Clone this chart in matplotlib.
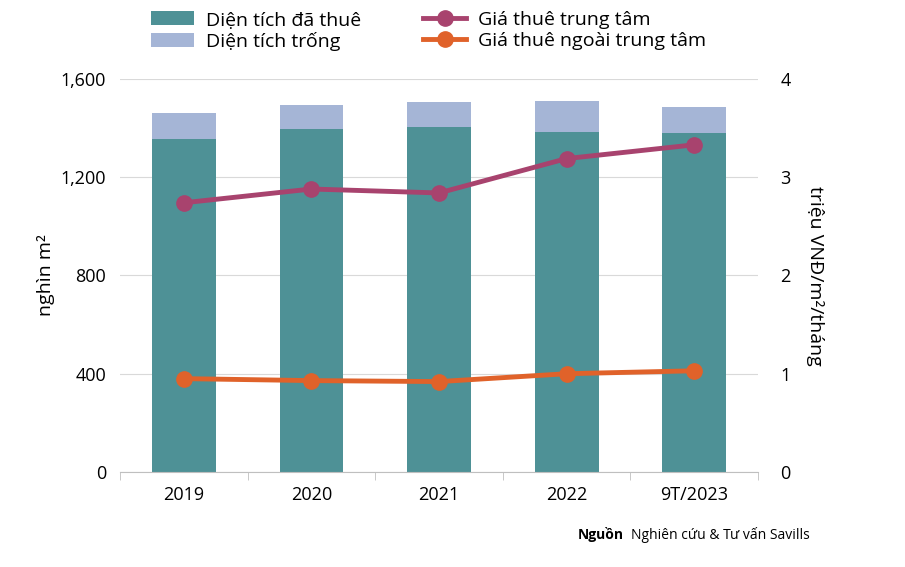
import matplotlib.pyplot as plt
import numpy as np

plt.rcParams['font.family'] = ['Open Sans', 'DejaVu Sans']

categories = ['2019', '2020', '2021', '2022', '9T/2023']
leased = [1356, 1397, 1405, 1384, 1380]
total = [1462, 1494, 1507, 1511, 1486]
vacant = [t - l for t, l in zip(total, leased)]
rent_center = [2.74, 2.88, 2.84, 3.19, 3.33]
rent_outer = [0.95, 0.93, 0.92, 1.00, 1.03]

TEAL = '#4E9196'
LIGHT = '#A5B5D6'
PURPLE = '#A8436E'
ORANGE = '#E0622A'

fig = plt.figure(figsize=(9.05, 5.67), dpi=100)
ax = fig.add_axes([0.1326, 0.1676, 0.7050, 0.6931])
x = np.arange(len(categories))
b1 = ax.bar(x, leased, width=0.5, color=TEAL, label='Diện tích đã thuê', zorder=2)
b2 = ax.bar(x, vacant, width=0.5, bottom=leased, color=LIGHT, label='Diện tích trống', zorder=2)
ax.set_ylim(0, 1600)
ax.set_yticks([0, 400, 800, 1200, 1600])
ax.set_yticklabels(['0', '400', '800', '1,200', '1,600'])
ax.set_xlim(-0.5, len(categories) - 0.5)
ax.set_xticks(x)
ax.set_xticklabels(categories)
ax.yaxis.grid(True, color='#D9D9D9', lw=0.8, zorder=0)
ax.set_ylabel('nghìn m²', fontsize=14)
for s in ['top', 'right', 'left']:
    ax.spines[s].set_visible(False)
ax.spines['bottom'].set_color('#BFBFBF')
ax.tick_params(axis='both', length=0, labelsize=13, pad=10)
ax.set_xticks(np.arange(-0.5, len(categories)), minor=True)
ax.tick_params(axis='x', which='minor', length=6, color='#BFBFBF')

ax2 = ax.twinx()
l1, = ax2.plot(x, rent_center, color=PURPLE, lw=3.5, marker='o', ms=11, label='Giá thuê trung tâm', zorder=3)
l2, = ax2.plot(x, rent_outer, color=ORANGE, lw=3.5, marker='o', ms=11, label='Giá thuê ngoài trung tâm', zorder=3)
ax2.set_ylim(0, 4)
ax2.set_yticks([0, 1, 2, 3, 4])
ax2.set_ylabel('triệu VNĐ/m²/tháng', fontsize=14, rotation=270, labelpad=24)
for s in ['top', 'right', 'left', 'bottom']:
    ax2.spines[s].set_visible(False)
ax2.tick_params(axis='y', length=0, labelsize=13, pad=16)

fig.legend([b1, b2, l1, l2], [h.get_label() for h in [b1, b2, l1, l2]],
           ncol=2, loc='upper left', bbox_to_anchor=(0.148, 1.012), frameon=False,
           fontsize=14, handlelength=2.2, handletextpad=0.6, columnspacing=3.2,
           labelspacing=0.15)

fig.text(0.638, 0.05, 'Nguồn', fontsize=10, fontweight='bold', ha='left')
fig.text(0.697, 0.05, 'Nghiên cứu & Tư vấn Savills', fontsize=10, ha='left')

fig.savefig('out.png', dpi=100)
